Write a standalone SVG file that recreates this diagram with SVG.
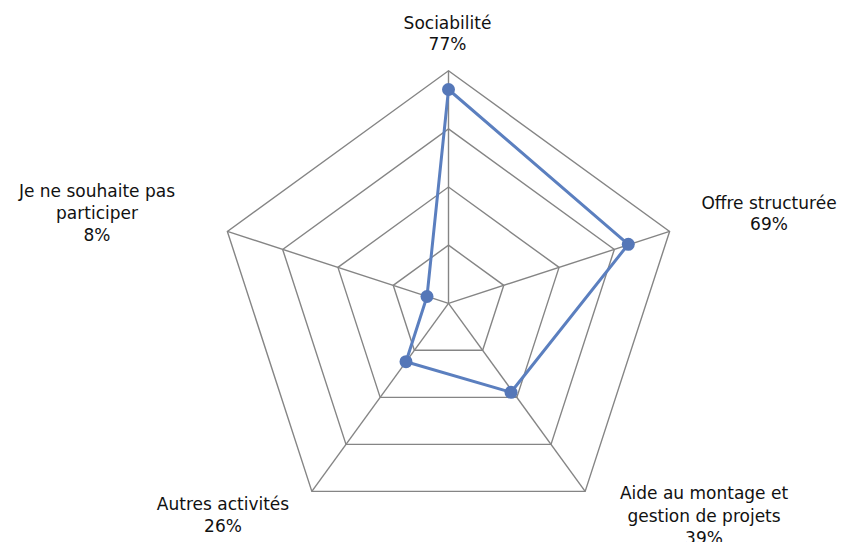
<svg xmlns="http://www.w3.org/2000/svg" width="845" height="542" viewBox="0 0 845 542">
<style>
.grid{fill:none;stroke:#858585;stroke-width:1.4}
.series{fill:none;stroke:#5B7FBF;stroke-width:3;stroke-linejoin:round}
.dot{fill:#5577B8}
.lbl{font-family:"DejaVu Sans","Liberation Sans",sans-serif;font-size:17px;fill:#111;text-anchor:middle}
</style>
<rect width="845" height="542" fill="#fff"/>
<g id="grid">
<polygon class="grid" points="448.5,70.8 669.6,231.45 585.16,491.4 311.84,491.4 227.38,231.45"/>
<polygon class="grid" points="448.5,128.93 614.34,249.41 551,444.37 346,444.37 282.66,249.41"/>
<polygon class="grid" points="448.5,187.05 559.06,267.38 516.83,397.35 380.17,397.35 337.94,267.38"/>
<polygon class="grid" points="448.5,245.18 503.78,285.34 482.67,350.32 414.33,350.32 393.22,285.34"/>
<line class="grid" x1="448.5" y1="303.3" x2="448.5" y2="70.8"/>
<line class="grid" x1="448.5" y1="303.3" x2="669.6" y2="231.45"/>
<line class="grid" x1="448.5" y1="303.3" x2="585.16" y2="491.4"/>
<line class="grid" x1="448.5" y1="303.3" x2="311.84" y2="491.4"/>
<line class="grid" x1="448.5" y1="303.3" x2="227.38" y2="231.45"/>
</g>
<g id="connectors">
<polygon class="series" points="448.5,89.5 628.3,244.3 511,392.3 406,361.7 427,296.5"/>
</g>
<g id="node-sociabilite">
<circle class="dot" cx="448.5" cy="89.5" r="6.5"/>
<text class="lbl" x="447.5" y="29">Sociabilité</text>
<text class="lbl" x="447.5" y="50">77%</text>
</g>
<g id="node-offre">
<circle class="dot" cx="628.3" cy="244.3" r="6.5"/>
<text class="lbl" x="769" y="209">Offre structurée</text>
<text class="lbl" x="769" y="230">69%</text>
</g>
<g id="node-aide">
<circle class="dot" cx="511" cy="392.3" r="6.5"/>
<text class="lbl" x="704" y="499">Aide au montage et</text>
<text class="lbl" x="704" y="521.5">gestion de projets</text>
<text class="lbl" x="704" y="544">39%</text>
</g>
<g id="node-autres">
<circle class="dot" cx="406" cy="361.7" r="6.5"/>
<text class="lbl" x="223" y="510">Autres activités</text>
<text class="lbl" x="223" y="531.5">26%</text>
</g>
<g id="node-je">
<circle class="dot" cx="427" cy="296.5" r="6.5"/>
<text class="lbl" x="97" y="196.5">Je ne souhaite pas</text>
<text class="lbl" x="97" y="219">participer</text>
<text class="lbl" x="97" y="241">8%</text>
</g>
</svg>
